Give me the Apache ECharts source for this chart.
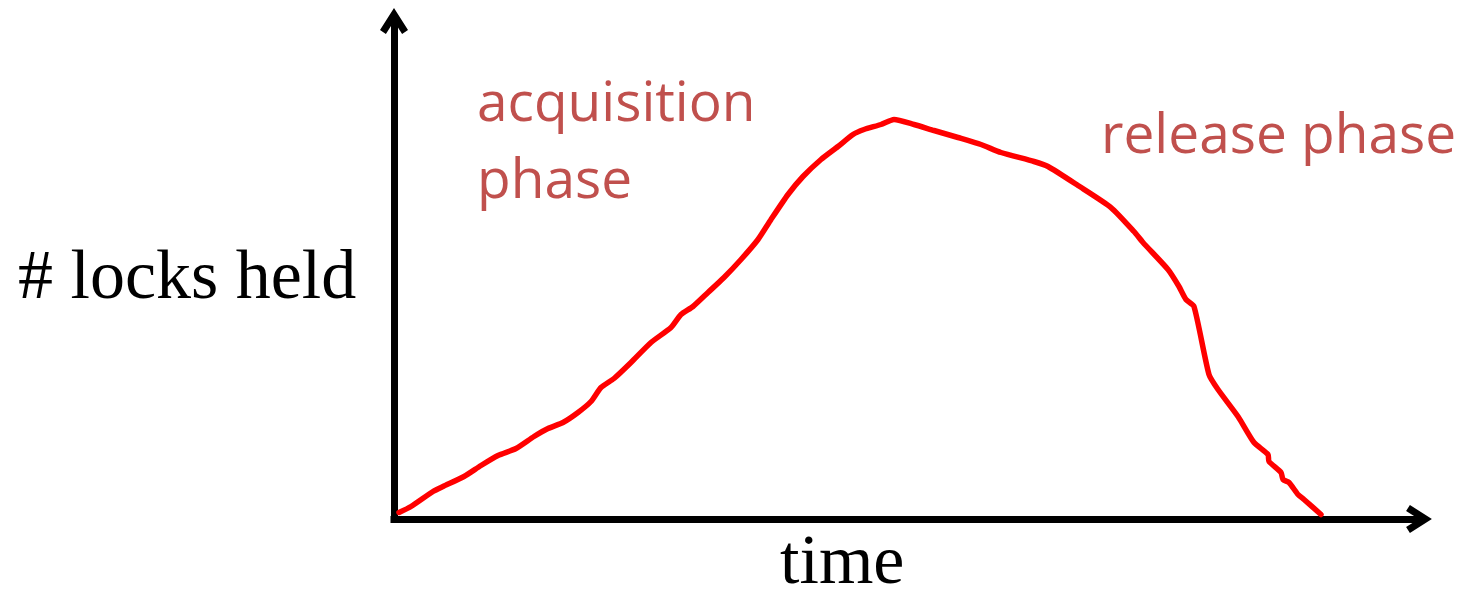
<!DOCTYPE html>
<html>
<head>
<meta charset="utf-8">
<script src="https://cdn.jsdelivr.net/npm/echarts@6/dist/echarts.min.js"></script>
<style>html,body{margin:0;padding:0;background:#fff;}#c{width:1465px;height:595px;}</style>
</head>
<body>
<div id="c"></div>
<script>
// time (arbitrary units) and number of locks held (arbitrary units)
const timeValues = [0.5,1.7,3.9,4.9,7.0,8.7,10.4,12.2,14.0,15.4,16.9,18.4,19.7,20.7,22.0,23.7,25.7,27.7,28.7,29.9,31.4,33.0,34.7,36.4,37.7,39.4,40.9,42.7,44.4,45.9,47.0,48.7,50.0,52.0,54.0,56.4,58.7,60.7,64.0,65.4,68.4,71.7,74.0,74.9,77.4,78.5,79.2,80.0,81.5,82.4,84.4,86.0,87.4,87.5,88.7,88.9,89.5,90.4,91.0,92.7];
const locksHeld = [1.3,2.5,5.5,6.5,8.5,10.7,12.7,14.1,16.5,18.1,19.3,21.3,23.5,26.3,28.1,31.3,35.3,38.3,40.9,42.5,45.3,48.3,51.9,55.9,59.9,64.9,68.5,71.9,74.5,76.9,77.9,78.9,79.9,78.9,77.7,76.3,74.9,73.3,71.5,70.5,66.7,62.3,57.5,55.3,49.9,46.5,43.9,42.5,28.9,25.9,20.5,15.3,12.9,11.5,9.3,7.9,7.3,4.9,3.9,0.9];
const xAxisName = 'time';
const yAxisName = '# locks held';
const phaseLabels = ['acquisition', 'phase', 'release phase'];

const chevron = 'path://M14,0 L28,22 L22.1,25.8 L14,13.1 L5.9,25.8 L0,22 Z';
const chart = echarts.init(document.getElementById('c'), null, {renderer: 'canvas'});
const axisCommon = {
  type: 'value',
  axisLine: {show: true, onZero: false, symbol: ['none', chevron], symbolSize: [28, 26],
    lineStyle: {color: '#000', width: 7, cap: 'square'}},
  axisTick: {show: false}, axisLabel: {show: false}, splitLine: {show: false}
};
const sans = {fontFamily: 'Open Sans', fontSize: 55, fill: '#C0504D', textVerticalAlign: 'middle'};
const serif = {fontFamily: 'Liberation Serif', fontSize: 70, fill: '#000', textVerticalAlign: 'middle'};
chart.setOption({
  animation: false,
  backgroundColor: '#fff',
  grid: {left: 394, right: 46, top: 21, bottom: 76},
  xAxis: Object.assign({}, axisCommon, {min: 0, max: 102.5}),
  yAxis: Object.assign({}, axisCommon, {min: 0, max: 99.6}),
  series: [{
    type: 'line',
    data: timeValues.map((t, i) => [t, locksHeld[i]]),
    showSymbol: false,
    smooth: 0.2,
    lineStyle: {color: '#FF0000', width: 5.5, cap: 'round', join: 'round'}
  }],
  graphic: [
    {type: 'text', style: Object.assign({text: yAxisName, x: 18, y: 280}, serif)},
    {type: 'text', style: Object.assign({text: xAxisName, x: 780, y: 565}, serif)},
    {type: 'text', style: Object.assign({text: phaseLabels[0], x: 477, y: 105}, sans)},
    {type: 'text', style: Object.assign({text: phaseLabels[1], x: 477, y: 182}, sans)},
    {type: 'text', style: Object.assign({text: phaseLabels[2], x: 1101, y: 137}, sans)}
  ]
});
</script>
</body>
</html>
